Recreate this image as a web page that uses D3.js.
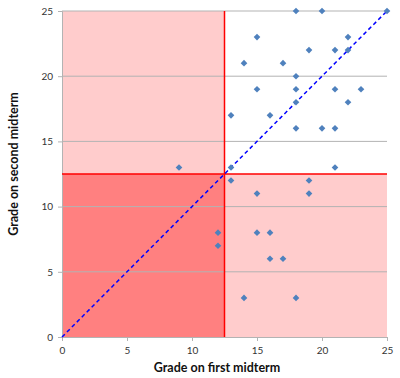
<!DOCTYPE html>
<html>
<head>
<meta charset="utf-8">
<script src="https://cdn.jsdelivr.net/npm/d3@7"></script>
<style>
  body { margin: 0; background: #fff; }
  svg text { font-family: Lato, "Open Sans", sans-serif; }
</style>
</head>
<body>
<div id="chart"></div>
<script>
// midterm grades
var firstMid  = [18, 20, 25, 15, 22, 19, 21, 22, 14, 17, 18, 15, 18, 21, 23, 22, 18, 13, 16, 18, 20, 21, 13, 21, 9, 13, 19, 15, 19, 12, 15, 16, 12, 16, 17, 14, 18];
var secondMid = [25, 25, 25, 23, 23, 22, 22, 22, 21, 21, 20, 19, 19, 19, 19, 18, 18, 17, 17, 16, 16, 16, 13, 13, 13, 12, 12, 11, 11, 8, 8, 8, 7, 6, 6, 3, 3];
var ticks = [0, 5, 10, 15, 20, 25];
var passMark = 12.5;

var W = 400, H = 378;
var x = d3.scaleLinear().domain([0, 25]).range([62, 387]);
var y = d3.scaleLinear().domain([0, 25]).range([337, 11]);

var svg = d3.select("#chart").append("svg").attr("width", W).attr("height", H);

// quadrant fills
var quads = [
  { x0: 0, x1: passMark, y0: passMark, y1: 25, c: "#ffcccc" },
  { x0: passMark, x1: 25, y0: 0, y1: passMark, c: "#ffcccc" },
  { x0: 0, x1: passMark, y0: 0, y1: passMark, c: "#ff8080" }
];
svg.selectAll("rect.q").data(quads).enter().append("rect").attr("class", "q")
  .attr("x", function(d) { return x(d.x0); })
  .attr("y", function(d) { return y(d.y1); })
  .attr("width", function(d) { return x(d.x1) - x(d.x0); })
  .attr("height", function(d) { return y(d.y0) - y(d.y1); })
  .attr("fill", function(d) { return d.c; });

// gridlines
svg.selectAll("line.grid").data(ticks.slice(1)).enter().append("line").attr("class", "grid")
  .attr("x1", x(0)).attr("x2", x(25))
  .attr("y1", function(d) { return y(d); }).attr("y2", function(d) { return y(d); })
  .attr("stroke", "#b3b3b3").attr("stroke-width", 1);

// axes
var xAxis = svg.append("g").attr("transform", "translate(0," + y(0) + ")")
  .call(d3.axisBottom(x).tickValues(ticks).tickSize(4).tickPadding(6));
var yAxis = svg.append("g").attr("transform", "translate(" + x(0) + ",0)")
  .call(d3.axisLeft(y).tickValues(ticks).tickSize(4).tickPadding(5));
[xAxis, yAxis].forEach(function(a) {
  a.select(".domain").attr("stroke", "#b3b3b3");
  a.selectAll(".tick line").attr("stroke", "#b3b3b3");
  a.selectAll("text").attr("font-size", 10).attr("fill", "#333")
    .style("font-family", "Lato, 'Open Sans', sans-serif");
});

// pass-mark lines
svg.append("line").attr("x1", x(passMark)).attr("x2", x(passMark)).attr("y1", y(25)).attr("y2", y(0))
  .attr("stroke", "#ff0000").attr("stroke-width", 1.5);
svg.append("line").attr("x1", x(0)).attr("x2", x(25)).attr("y1", y(passMark)).attr("y2", y(passMark))
  .attr("stroke", "#ff0000").attr("stroke-width", 1.5);

// diagonal
svg.append("line").attr("x1", x(0)).attr("y1", y(0)).attr("x2", x(25)).attr("y2", y(25))
  .attr("stroke", "#0000ff").attr("stroke-width", 1.5).attr("stroke-dasharray", "4,3");

// points (square diamonds)
var pts = firstMid.map(function(v, i) { return [v, secondMid[i]]; });
svg.selectAll("path.pt").data(pts).enter().append("path").attr("class", "pt")
  .attr("d", d3.symbol().type(d3.symbolSquare).size(22))
  .attr("transform", function(d) { return "translate(" + x(d[0]) + "," + y(d[1]) + ") rotate(45)"; })
  .attr("fill", "#4f81bd");

// axis titles
svg.append("text").attr("x", 217).attr("y", 372).attr("text-anchor", "middle")
  .attr("font-size", 12.5).attr("font-weight", "bold").attr("fill", "#111").text("Grade on first midterm");
svg.append("text").attr("transform", "translate(18,164) rotate(-90)").attr("text-anchor", "middle")
  .attr("font-size", 12.5).attr("font-weight", "bold").attr("fill", "#111").text("Grade on second midterm");
</script>
</body>
</html>
